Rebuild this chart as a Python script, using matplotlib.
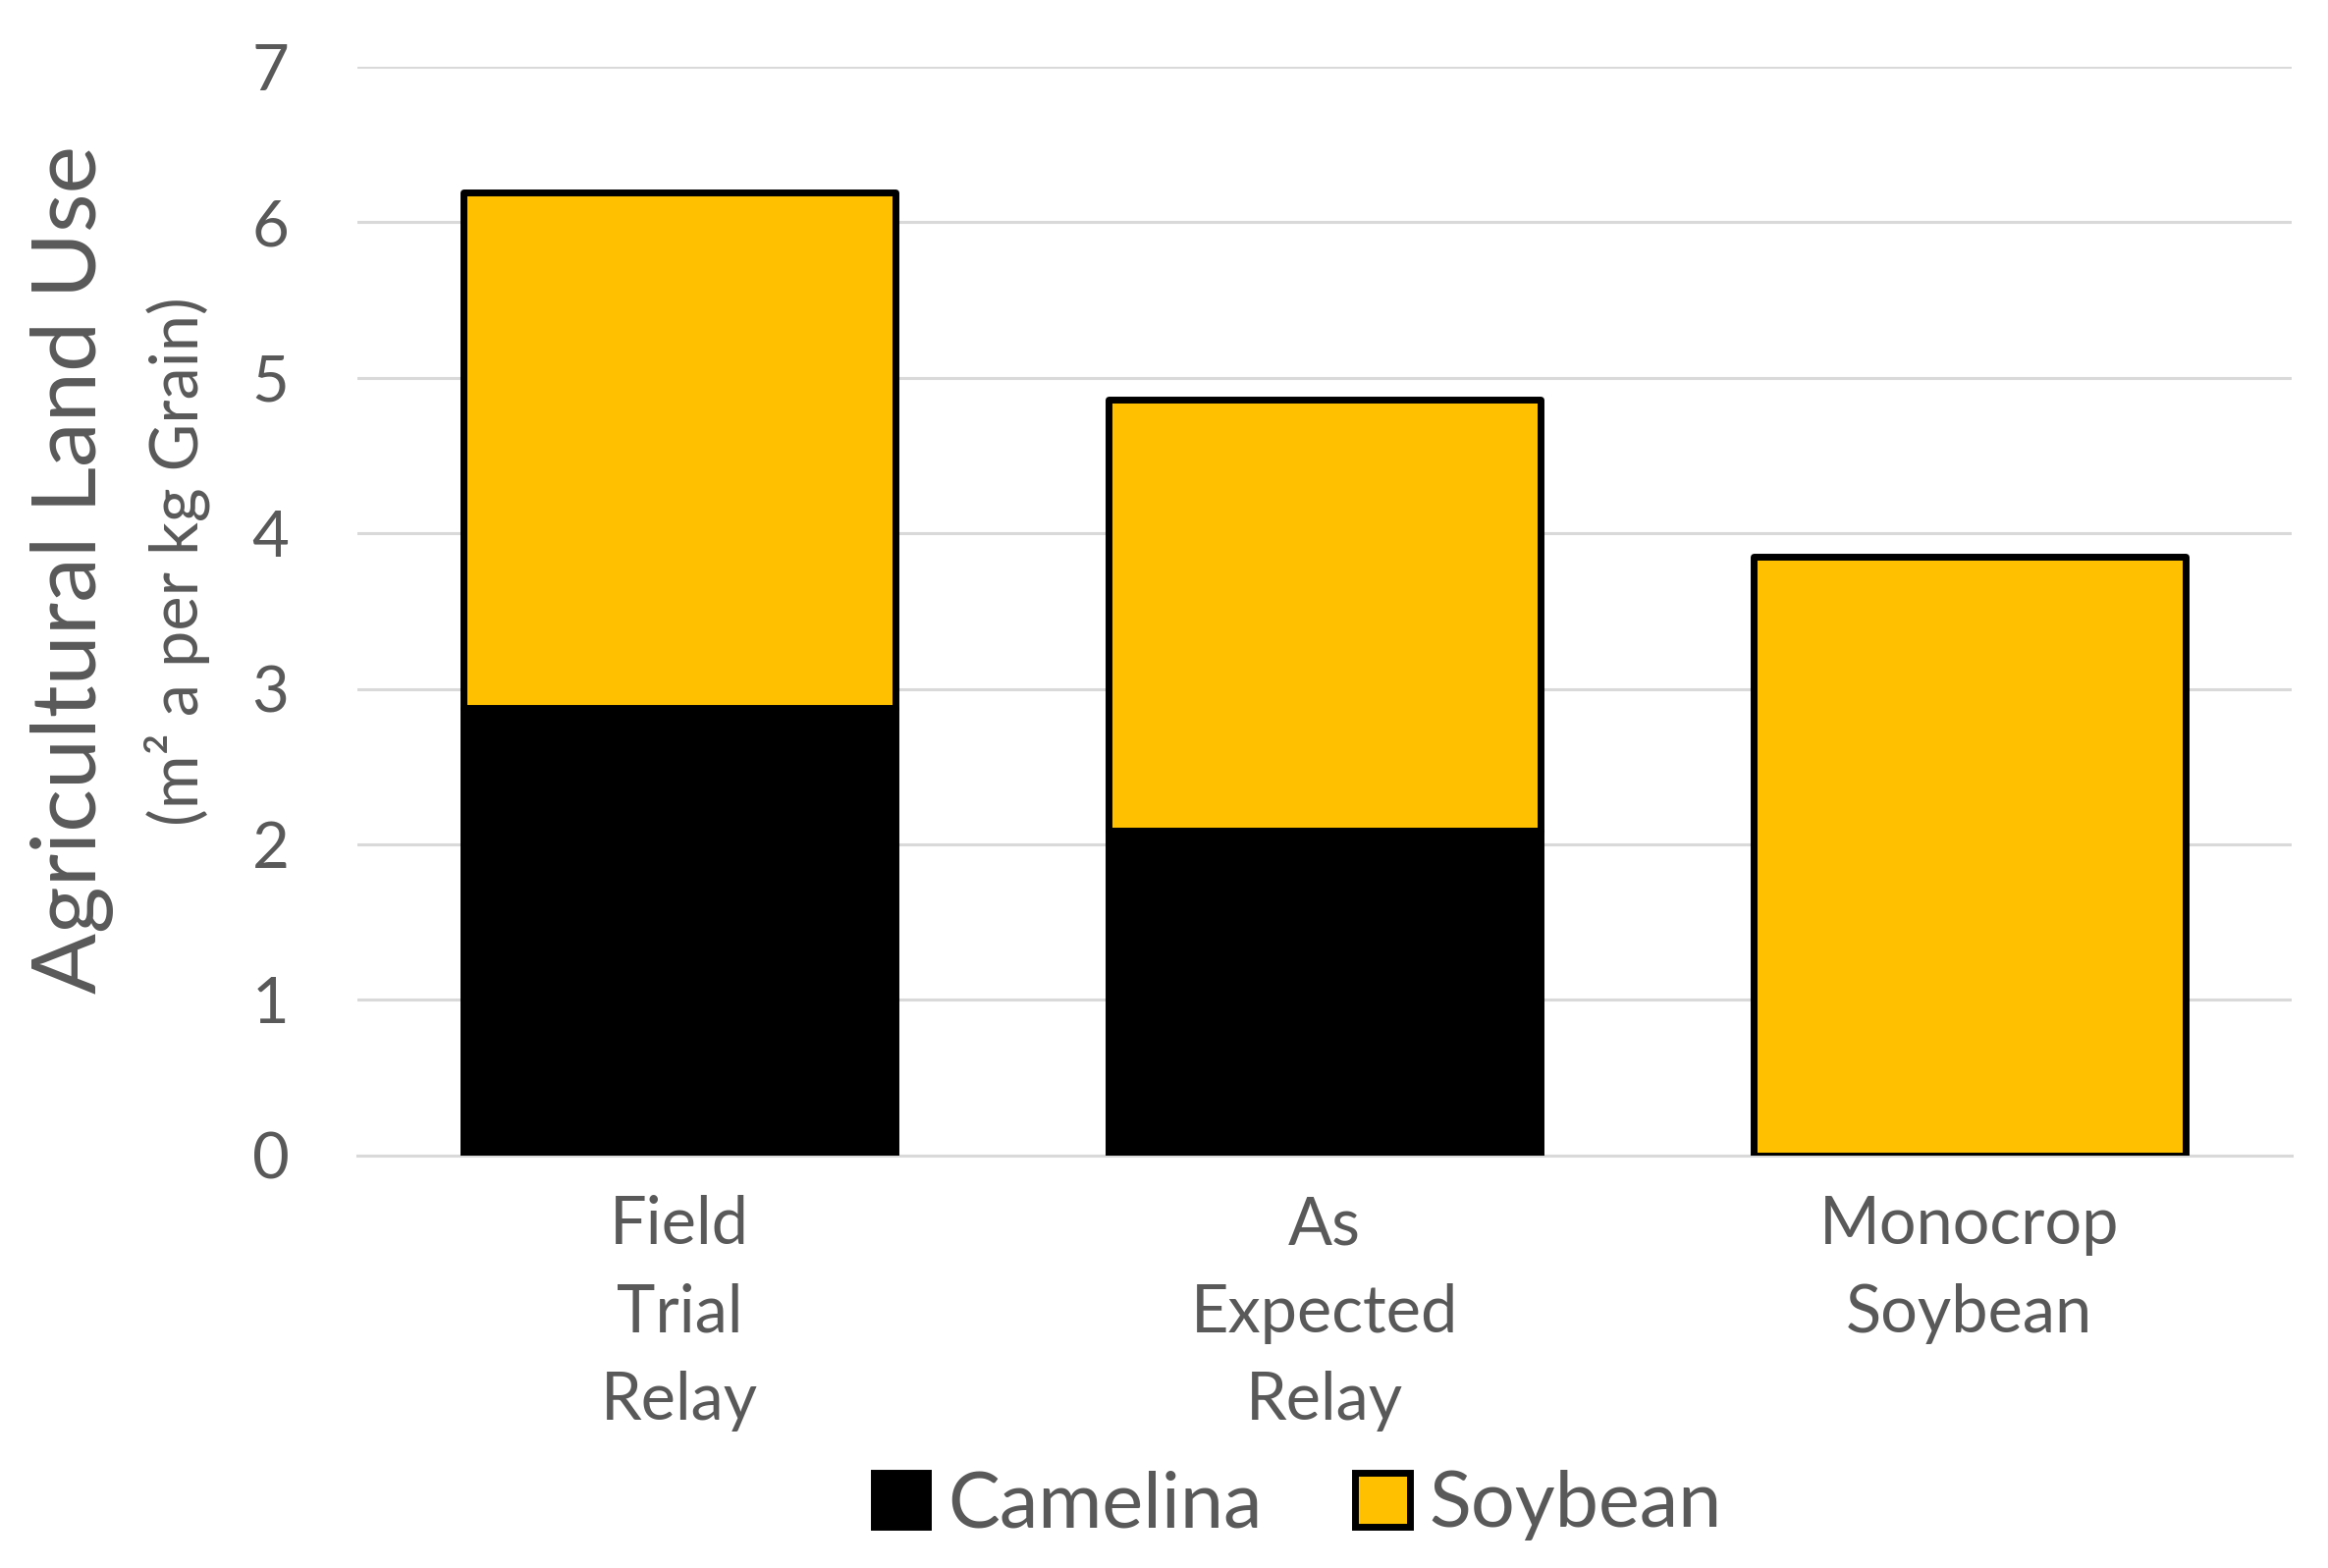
import matplotlib
matplotlib.use("Agg")
import matplotlib.pyplot as plt
import numpy as np

# Data
categories = ["Field\nTrial\nRelay", "As\nExpected\nRelay", "Monocrop\nSoybean"]
camelina = [2.88, 2.09, 0.0]
soybean = [3.31, 2.77, 3.85]
y_ticks = [0, 1, 2, 3, 4, 5, 6, 7]

plt.rcParams['font.family'] = ['Lato', 'DejaVu Sans']
txt_color = "#595959"
grid_color = "#d9d9d9"
soy_color = "#ffc000"

fig = plt.figure(figsize=(23.71, 15.97), dpi=100)
ax = fig.add_axes([0.1535, 0.263, 0.831, 0.6947])

x = np.arange(len(categories))
ax.bar(x, camelina, width=0.67, color="black", edgecolor="black", linewidth=5,
       joinstyle="round", label="Camelina", zorder=3)
ax.bar(x, soybean, width=0.67, bottom=camelina, color=soy_color, edgecolor="black",
       linewidth=5, joinstyle="round", label="Soybean", zorder=3)

ax.set_xlim(-0.5, 2.5)
ax.set_ylim(0, 7)
ax.set_yticks(y_ticks)
ax.set_xticks(x)
ax.set_xticklabels(categories, linespacing=1.55)
ax.tick_params(axis="y", length=0, pad=50, labelsize=47, labelcolor=txt_color)
ax.tick_params(axis="x", length=0, pad=29, labelsize=48, labelcolor=txt_color)
ax.yaxis.grid(True, color=grid_color, linewidth=2.2, zorder=0)
ax.set_axisbelow(True)
for s in ["top", "right", "left"]:
    ax.spines[s].set_visible(False)
ax.spines["bottom"].set_color(grid_color)
ax.spines["bottom"].set_linewidth(2.2)

# Two-part y label
fig.text(0.031, 0.637, "Agricultural Land Use", rotation=90, ha="center", va="center",
         fontsize=66, color=txt_color)
fig.text(0.076, 0.642, "(m² a per kg Grain)", rotation=90, ha="center", va="center",
         fontsize=48, color=txt_color)

leg = fig.legend(loc="center", bbox_to_anchor=(0.5575, 0.040), ncol=2, frameon=False,
                 fontsize=57, handlelength=0.7, handleheight=0.7, handletextpad=0.25,
                 columnspacing=1.2, labelcolor=txt_color)

fig.savefig("out.png", dpi=100, facecolor="white")
